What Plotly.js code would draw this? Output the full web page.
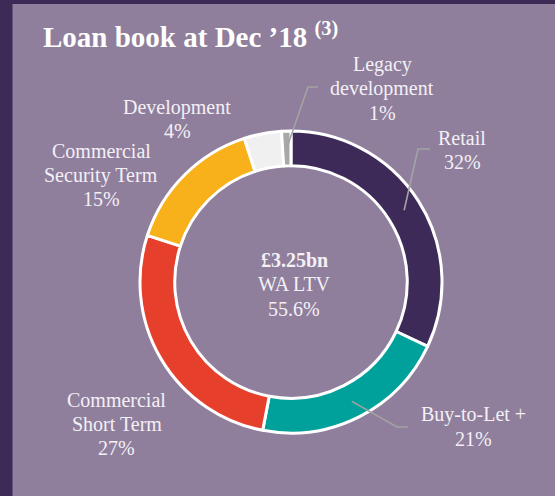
<!DOCTYPE html>
<html>
<head>
<meta charset="utf-8">
<script src="https://cdn.plot.ly/plotly-3.0.1.min.js"></script>
<style>
html,body{margin:0;padding:0;background:#8F7F9C;}
#chart{width:555px;height:496px;}
</style>
</head>
<body>
<div id="chart"></div>
<script>
// ---- data ----
const categories = ['Retail', 'Buy-to-Let +', 'Commercial Short Term', 'Commercial Security Term', 'Development', 'Legacy development'];
const labelLines = [['Retail'], ['Buy-to-Let +'], ['Commercial', 'Short Term'], ['Commercial', 'Security Term'], ['Development'], ['Legacy', 'development']];
const shares = [32, 21, 27, 15, 4, 1];
const centerLines = ['<b>£3.25bn</b>', 'WA LTV', '55.6%'];
const titleText = '<b>Loan book at Dec ’18 <sup>(3)</sup></b>';

// ---- styling / layout ----
const colors = ['#3E2A58', '#00A19B', '#E63F2B', '#F8B11A', '#F0F0F0', '#A8A8A8'];
const W = 555, H = 496;
const cx = 291, cy = 282, R = 151;
const txtColor = '#F4F0F6';
const fs = 20, lineGap = 24;
// label anchor: centre x, first baseline y (px)
const labelPos = [[462, 145], [473, 421.5], [116.5, 406.5], [101, 158], [177, 114], [382, 71.5]];
// leader lines: elbow points (px) for labelled slices
const leaders = {0: [[418, 149], [430, 149]], 1: [[397, 427], [408, 427]], 5: [[308, 87], [318, 87]]};

const px = x => x / W;
const py = y => 1 - y / H;

const annotations = [];
function addLine(text, x, baseline, size, opts) {
  annotations.push(Object.assign({
    text: text, x: px(x), y: py(baseline - 0.34 * size), xref: 'paper', yref: 'paper',
    xanchor: 'center', yanchor: 'middle', showarrow: false,
    font: {family: 'Liberation Serif, Times New Roman, serif', size: size, color: txtColor}
  }, opts || {}));
}

const total = shares.reduce((a, b) => a + b, 0);
labelLines.forEach((lines, i) => {
  const [x, y0] = labelPos[i];
  const all = lines.concat([shares[i] + '%']);
  all.forEach((t, k) => addLine(t, x, y0 + k * lineGap, fs));
});
centerLines.forEach((t, k) => addLine(t, 294, 266.5 + k * 24.5, fs));

// title
annotations.push({
  text: titleText, x: px(41), y: py(45 - 0.34 * 29), xref: 'paper', yref: 'paper',
  xanchor: 'left', yanchor: 'middle', showarrow: false,
  font: {family: 'Liberation Serif, Times New Roman, serif', size: 29, color: '#FFFFFF'}
});

const shapes = [
  {type: 'rect', xref: 'paper', yref: 'paper', x0: 0, x1: px(12.5), y0: 0, y1: 1, fillcolor: '#3D2A57', line: {width: 0}, layer: 'below'},
  {type: 'rect', xref: 'paper', yref: 'paper', x0: 0, x1: 1, y0: py(4), y1: 1, fillcolor: '#3D2A57', line: {width: 0}, layer: 'below'}
];

let cum = 0;
shares.forEach((v, i) => {
  const mid = (cum + v / 2) / total * 2 * Math.PI;
  cum += v;
  if (!leaders[i]) return;
  const r = 134;
  const sx = cx + r * Math.sin(mid), sy = cy - r * Math.cos(mid);
  const pts = [[sx, sy]].concat(leaders[i]);
  const path = pts.map((p, k) => (k ? 'L' : 'M') + px(p[0]).toFixed(5) + ',' + py(p[1]).toFixed(5)).join(' ');
  shapes.push({type: 'path', xref: 'paper', yref: 'paper', path: path, line: {color: '#A3A3A3', width: 1.6}, layer: 'above'});
});

const trace = {
  type: 'pie',
  labels: categories,
  values: shares,
  hole: 0.77,
  sort: false,
  direction: 'clockwise',
  rotation: 0,
  textinfo: 'none',
  hoverinfo: 'none',
  marker: {colors: colors, line: {color: '#FFFFFF', width: 3}},
  domain: {x: [px(cx - R), px(cx + R)], y: [py(cy + R), py(cy - R)]},
  showlegend: false
};

const layout = {
  width: W, height: H,
  margin: {l: 0, r: 0, t: 0, b: 0},
  paper_bgcolor: '#8F7F9C',
  plot_bgcolor: '#8F7F9C',
  showlegend: false,
  annotations: annotations,
  shapes: shapes
};

Plotly.newPlot('chart', [trace], layout, {displayModeBar: false, staticPlot: true});
</script>
</body>
</html>
